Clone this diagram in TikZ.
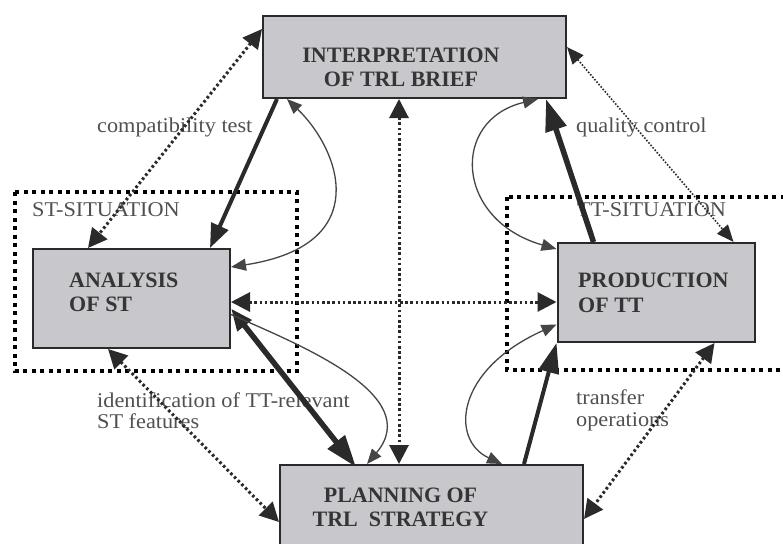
\documentclass[tikz,border=0pt]{standalone}
\usepackage{fontspec}
\setmainfont{Liberation Serif}
\newfontfamily\lblfont[FakeStretch=1.06]{Liberation Serif}
\usetikzlibrary{arrows.meta,calc}

\definecolor{boxfill}{HTML}{C8C8CC}
\definecolor{ink}{HTML}{2A2A2A}
\definecolor{boxtext}{HTML}{353535}
\definecolor{labeltext}{HTML}{505050}
\definecolor{thinink}{HTML}{454545}

\begin{document}
\begin{tikzpicture}[x=1pt,y=-1pt,
  stagebox/.style={draw=ink, line width=2pt, fill=boxfill, inner sep=0pt},
  stagetext/.style={font=\fontsize{22}{24.5}\selectfont\bfseries, text=boxtext, inner sep=0pt},
  lbl/.style={font=\lblfont\fontsize{21}{21.5}\selectfont, text=labeltext, align=left, inner sep=0pt, anchor=west},
  situation/.style={draw=black, line width=4pt, dash pattern=on 4pt off 4.5pt},
  dotline/.style={draw=ink, line width=3pt, dash pattern=on 2.6pt off 2.6pt,
     {Triangle[length=19pt,width=19pt]}-{Triangle[length=19pt,width=19pt]}},
  finedotline/.style={draw=ink, line width=1.6pt, dash pattern=on 1.6pt off 1.6pt,
     {Triangle[length=17pt,width=14pt]}-{Triangle[length=17pt,width=14pt]}},
  thickline/.style={draw=ink, line width=4pt, -{Triangle[length=24pt,width=18pt]}},
  heavyline/.style={draw=ink, line width=5.5pt, -{Triangle[length=32pt,width=21pt]}},
  loopline/.style={draw=thinink, line width=1.3pt,
     {Triangle[length=15pt,width=12pt]}-{Triangle[length=15pt,width=12pt]}}
]
\clip (0,0) rectangle (783,543);
\fill[white] (0,0) rectangle (783,543);

% situation frames
\draw[situation] (15,192) rectangle (297,371);
\draw[situation] (507,197) rectangle (800,370);
\node[lbl] (stsit) at (32,210) {ST-SITUATION};
\node[lbl] (ttsit) at (577,210) {TT-SITUATION};

% stage boxes
\node[stagebox, minimum width=303pt, minimum height=82pt] (interp) at (414.5,57) {};
\node[stagebox, minimum width=197pt, minimum height=99pt] (analysis) at (131.5,298.5) {};
\node[stagebox, minimum width=197pt, minimum height=99pt] (production) at (656,292.5) {};
\node[stagebox, minimum width=303pt, minimum height=90pt] (planning) at (431.5,510) {};

\node[stagetext, align=center] (interpT) at (401,67.5) {INTERPRETATION\\OF TRL BRIEF};
\node[stagetext, align=left, anchor=west] (analysisT) at (69,292.5) {ANALYSIS\\OF ST};
\node[stagetext, align=left, anchor=west] (productionT) at (578,293) {PRODUCTION\\OF TT};
\node[stagetext, align=center] (planningT) at (400.5,507.5) {PLANNING OF\\TRL\ \ STRATEGY};

% labels
\node[lbl] (compat) at (97,127) {compatibility test};
\node[lbl] (quality) at (576,127) {quality control};
\node[lbl] (ident) at (97,410.5) {identification of TT-relevant\\ST features};
\node[lbl] (transfer) at (576,410.5) {transfer\\operations};

% named end points on the boxes
\coordinate (iA) at ([yshift=-14pt]interp.north west);
\coordinate (iB) at ([xshift=15pt]interp.south west);
\coordinate (iC) at ([xshift=25pt]interp.south west);
\coordinate (iD) at ([xshift=137pt]interp.south west);
\coordinate (iE) at ([xshift=276pt]interp.south west);
\coordinate (iF) at ([xshift=284pt]interp.south west);
\coordinate (iG) at ([yshift=-32pt]interp.north east);

\coordinate (aA) at ([xshift=56pt]analysis.north west);
\coordinate (aB) at ([xshift=178pt]analysis.north west);
\coordinate (aC) at ([yshift=-19pt]analysis.north east);
\coordinate (aD) at ([yshift=-3.5pt]analysis.east);
\coordinate (aE) at ([yshift=-10pt]analysis.east);
\coordinate (aF) at ([yshift=-16pt]analysis.east);
\coordinate (aG) at ([xshift=76pt]analysis.south west);

\coordinate (pA) at ([yshift=-7pt]production.north west);
\coordinate (pB) at ([yshift=-9.5pt]production.west);
\coordinate (pC) at ([yshift=-32pt]production.west);
\coordinate (pD) at ([xshift=37pt]production.north west);
\coordinate (pE) at ([xshift=177pt]production.north west);
\coordinate (pF) at ([xshift=158pt]production.south west);

\coordinate (lA) at ([yshift=-3pt,xshift=77pt]planning.north west);
\coordinate (lB) at ([xshift=88pt]planning.north west);
\coordinate (lC) at ([xshift=120pt]planning.north west);
\coordinate (lD) at ([xshift=223pt]planning.north west);
\coordinate (lE) at ([xshift=245pt]planning.north west);
\coordinate (lF) at ([yshift=-58pt]planning.north west);
\coordinate (lG) at ([yshift=-55pt]planning.north east);

% connectors: interpretation <-> analysis
\draw[dotline] (iA) -- (aA);
\draw[thickline] (iB) -- (aB);
\draw[loopline] (iC) .. controls (340,150) and (375,245) .. (aC);

% interpretation <-> planning
\draw[dotline] (iD) -- (lC);

% analysis <-> production
\draw[dotline] (aD) -- (pB);

% analysis <-> planning
\draw[heavyline, {Triangle[length=22pt,width=17pt]}-{Triangle[length=32pt,width=21pt]}] (aE) -- (lA);
\draw[loopline, -{Triangle[length=15pt,width=12pt]}] (aF) .. controls (300,345) and (425,395) .. (lB);
\draw[dotline] (aG) -- (lF);

% planning <-> production
\draw[loopline] (lD) .. controls (450,440) and (455,370) .. (pC);
\draw[thickline, -{Triangle[length=30pt,width=20pt]}] (lE) -- (production.south west);
\draw[dotline] (pF) -- (lG);

% production <-> interpretation
\draw[loopline] (iE) .. controls (450,120) and (455,220) .. (pA);
\draw[heavyline] (pD) -- (iF);
\draw[finedotline] (iG) -- (pE);
\end{tikzpicture}
\end{document}
